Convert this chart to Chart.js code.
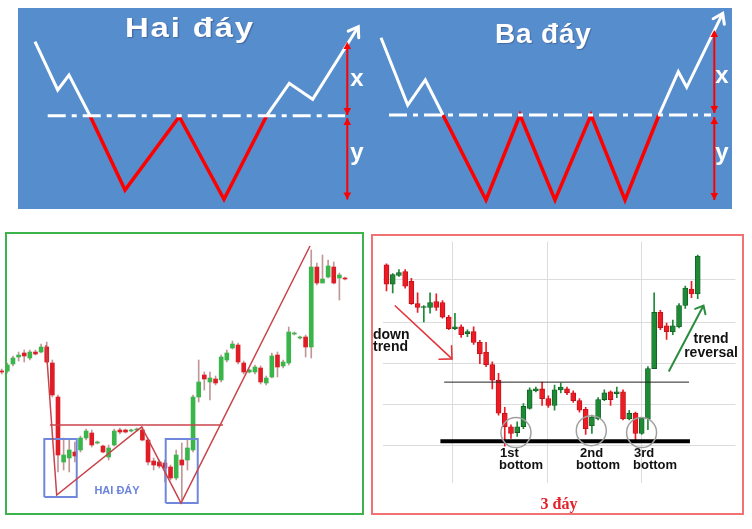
<!DOCTYPE html>
<html><head><meta charset="utf-8">
<script src="https://cdn.jsdelivr.net/npm/chart.js@4.4.1/dist/chart.umd.min.js"></script>
<style>
html,body{margin:0;padding:0;background:#fff;width:752px;height:529px;overflow:hidden;}
.abs{position:absolute;}
canvas{position:absolute;}
.t{position:absolute;font-family:"Liberation Sans",Arial,sans-serif;font-weight:bold;white-space:nowrap;}
</style></head><body>
<div class="abs" style="left:18px;top:8px;width:714px;height:201px;background:#568dcd"></div>
<canvas id="c1" width="357" height="201" style="left:18px;top:8px"></canvas>
<canvas id="c2" width="357" height="201" style="left:375px;top:8px"></canvas>
<canvas id="c3" width="370" height="300" style="left:0;top:225px"></canvas>
<canvas id="c4" width="386" height="300" style="left:366px;top:225px"></canvas>
<div class="abs" style="left:5px;top:232px;width:359px;height:283px;border:2px solid #3cb44b;box-sizing:border-box"></div>
<div class="abs" style="left:371px;top:234px;width:373px;height:281px;border:2px solid #f07272;box-sizing:border-box"></div>

<div class="t" style="left:125px;top:15px;font-size:27px;line-height:27px;letter-spacing:1.5px;transform:scaleX(1.22);transform-origin:0 0;color:#fff;text-shadow:1px 1px 1px rgba(40,40,80,0.35)">Hai đáy</div>
<div class="t" style="left:495px;top:20px;font-size:28px;line-height:28px;letter-spacing:0.8px;color:#fff;text-shadow:1px 1px 1px rgba(40,40,80,0.35)">Ba đáy</div>
<div class="t" style="left:342px;top:66px;width:30px;text-align:center;font-size:24px;line-height:24px;color:#fff">x</div>
<div class="t" style="left:342px;top:140px;width:30px;text-align:center;font-size:24px;line-height:24px;color:#fff">y</div>
<div class="t" style="left:707px;top:63px;width:30px;text-align:center;font-size:24px;line-height:24px;color:#fff">x</div>
<div class="t" style="left:707px;top:140px;width:30px;text-align:center;font-size:24px;line-height:24px;color:#fff">y</div>

<div class="t" style="left:87px;top:485px;width:60px;text-align:center;font-size:11px;line-height:11px;color:#6a83dc">HAI ĐÁY</div>

<div class="t" style="left:373px;top:328px;font-size:14px;line-height:12px;color:#111">down<br>trend</div>
<div class="t" style="left:671px;top:331px;width:80px;text-align:center;font-size:14px;line-height:14px;color:#111">trend<br>reversal</div>
<div class="t" style="left:500px;top:447px;font-size:13px;line-height:12px;color:#111">1st</div>
<div class="t" style="left:499px;top:459px;font-size:13px;line-height:12px;color:#111">bottom</div>
<div class="t" style="left:580px;top:447px;font-size:13px;line-height:12px;color:#111">2nd</div>
<div class="t" style="left:576px;top:459px;font-size:13px;line-height:12px;color:#111">bottom</div>
<div class="t" style="left:634px;top:447px;font-size:13px;line-height:12px;color:#111">3rd</div>
<div class="t" style="left:633px;top:459px;font-size:13px;line-height:12px;color:#111">bottom</div>
<div class="t" style="left:519px;top:496px;width:80px;text-align:center;font-family:'Liberation Serif','Times New Roman',serif;font-size:16px;line-height:16px;color:#e4202a">3 đáy</div>

<script>
// ---------- Top: "Hai đáy" pattern (double bottom) ----------
const hdStartX = [17, 39.7, 51, 72];
const hdStartY = [167.3, 119, 134, 93.3];
const hdWX = [72, 107, 161.3, 206, 248.7];
const hdWY = [93.3, 19, 92.3, 9.7, 93.3];
const hdEndX = [248.7, 271.3, 294.7, 340.3];
const hdEndY = [93.3, 125.7, 109.7, 182.3];
const hdNeckX = [29.7, 327];
const hdNeckY = 93.3;
const hdMeasureX = 329.3;
const hdUpperSpan = [167, 94];
const hdLowerSpan = [91, 9.5];

// ---------- Top: "Ba đáy" pattern (triple bottom) ----------
const bdStartX = [6, 32.7, 50.3, 68];
const bdStartY = [171.3, 104, 129, 94];
const bdWX = [68, 111, 145, 180, 216, 250, 284];
const bdWY = [94, 9, 94, 9, 94, 9, 94];
const bdEndX = [284, 303.3, 311.7, 347.7];
const bdEndY = [94, 137.3, 121.7, 195.7];
const bdNeckX = [14, 336];
const bdNeckY = 94;
const bdMeasureX = 339.3;
const bdUpperSpan = [179, 96];
const bdLowerSpan = [92, 9];

// ---------- Bottom left: double bottom candles ----------
const lOpen  = [154,154,161,168,172,167,173,173,178,162,128,63,67,73,75,87,92,82,79,68,80,95,95,94,95,95,85,64,63,62,58,47,65,65,75,128,150,143,146,145,165,177,180,162,153,153,157,142,148,170,159,162,191,187,188,178,258,242,248,258,247,247];
const lHigh  = [156,162,169,173,175,175,175,181,183,165,130,87,85,83,89,96,95,84,80,80,96,97,96,96,97,98,87,67,65,65,60,75,82,85,130,165,153,153,149,170,175,184,182,164,156,160,159,149,172,173,165,198,193,189,190,275,262,270,265,263,252,248];
const lLow   = [151,152,159,164,163,165,170,172,162,128,53,55,53,63,73,85,78,81,72,65,79,91,92,93,94,84,60,55,57,43,45,45,25,55,73,123,135,125,140,143,163,176,161,151,152,151,141,140,147,148,157,160,190,186,168,167,240,242,247,241,225,245];
const lClose = [153,160,167,170,169,173,171,178,163,130,70,70,75,69,87,94,80,83,73,77,94,93,93,95,96,85,63,60,59,57,47,70,60,77,128,143,146,147,142,168,172,181,163,153,155,158,143,147,169,158,163,193,192,188,178,258,242,246,259,242,250,246];
const lTrendX = [7.87, 9.77, 24.87, 31.86, 54.78];
const lTrendY = [180, 30, 98, 22, 279];
const lNeckX = [8.58, 39.32];
const lNeckY = 100;
const lBox1X = [7.57, 13.33], lBox1Y = [28, 86];
const lBox2X = [29.14, 34.83], lBox2Y = [22, 86];

// ---------- Bottom right: triple bottom candles ----------
const rOpen  = [225,205,214,218,208,185,181,181,187,186,171,159,161,154,156,145,135,122,106,72,58,52,58,77,95,97,87,80,96,97,93,85,76,59,66,86,94,92,94,66,72,51,66,118,176,162,156,161,183,200,195];
const rHigh  = [226,216,220,220,211,196,183,196,195,188,173,175,163,158,161,147,145,125,113,78,60,63,82,98,99,104,90,101,103,99,95,87,78,70,88,96,95,99,96,75,73,67,120,196,178,165,168,185,203,208,235];
const rLow   = [198,196,213,201,184,176,166,175,178,170,158,158,150,151,143,123,120,97,70,38,46,48,56,76,94,80,78,75,93,91,83,73,50,51,65,85,80,88,65,65,43,50,55,118,158,148,153,160,180,191,190];
const rClose = [205,215,217,203,185,181,182,186,181,171,159,161,153,156,145,133,122,106,72,58,51,58,79,96,97,87,80,96,99,93,85,75,56,68,86,93,86,94,66,72,51,67,118,176,160,156,162,183,201,195,234];
const rGridX = [10.64, 25.8, 40.9];
const rGridY = [39, 81, 123, 166, 210];
const rResistX = [9.27, 48.6], rResistY = 104;
const rSupportX = [8.66, 48.75], rSupportY = 43;
const rDownX = [1.34, 10.53], rDownY = [183, 128];
const rUpX = [45.35, 50.93], rUpY = [115, 183];
const rBottomX = [20.8, 32.9, 40.98];
const rBottomY = [52, 54, 52];

// ---------- helpers ----------
const pts = (xs, ys) => xs.map((x, i) => ({x, y: Array.isArray(ys) ? ys[i] : ys}));
const vpts = (x, ys) => ys.map(y => ({x, y}));
function rectPts(xs, ys) {
  return [{x:xs[0],y:ys[0]},{x:xs[1],y:ys[0]},{x:xs[1],y:ys[1]},{x:xs[0],y:ys[1]},{x:xs[0],y:ys[0]}];
}
function line(data, color, width, extra) {
  return Object.assign({type:'line', data, borderColor:color, backgroundColor:color, borderWidth:width,
    pointRadius:0, fill:false, tension:0, borderJoinStyle:'miter', borderCapStyle:'butt', order:0}, extra || {});
}

const arrowPlugin = {
  id: 'arrowHeads',
  afterDatasetsDraw(chart) {
    const ctx = chart.ctx;
    chart.data.datasets.forEach((ds, di) => {
      if (!ds.arrow) return;
      const meta = chart.getDatasetMeta(di);
      const p = meta.data;
      if (!p || p.length < 2) return;
      const a = ds.arrow;
      const draw = (tip, from) => {
        const ang = Math.atan2(tip.y - from.y, tip.x - from.x);
        const L = a.size, s = a.spread;
        ctx.save();
        ctx.strokeStyle = ds.borderColor; ctx.fillStyle = ds.borderColor;
        ctx.lineWidth = a.width || ds.borderWidth;
        ctx.lineCap = 'round'; ctx.lineJoin = 'miter';
        ctx.beginPath();
        ctx.moveTo(tip.x - L * Math.cos(ang - s), tip.y - L * Math.sin(ang - s));
        ctx.lineTo(tip.x, tip.y);
        ctx.lineTo(tip.x - L * Math.cos(ang + s), tip.y - L * Math.sin(ang + s));
        if (a.filled) { ctx.closePath(); ctx.fill(); } else { ctx.stroke(); }
        ctx.restore();
      };
      if (a.end) draw(p[p.length - 1], p[p.length - 2]);
      if (a.start) draw(p[0], p[1]);
    });
  }
};
Chart.register(arrowPlugin);

const baseOpts = {
  responsive:false, devicePixelRatio:1, animation:false, events:[],
  plugins:{legend:{display:false}, tooltip:{enabled:false}, title:{display:false}}
};

function topChart(id, sX, sY, wX, wY, eX, eY, nX, nY, mX, up, low) {
  const WHITE = '#ffffff', RED = '#ff0000';
  return new Chart(document.getElementById(id), {
    type:'scatter',
    data:{datasets:[
      line(pts(nX, nY), WHITE, 3, {borderDash:[18,6,5,6]}),
      line(pts(sX, sY), WHITE, 3),
      line(pts(wX, wY), RED, 3.5),
      line(pts(eX, eY), WHITE, 3, {arrow:{end:true, size:11, spread:0.6}}),
      line(vpts(mX, up), RED, 2, {arrow:{start:true, end:true, size:8, spread:0.5, filled:true}}),
      line(vpts(mX, low), RED, 2, {arrow:{start:true, end:true, size:8, spread:0.5, filled:true}})
    ]},
    options:Object.assign({}, baseOpts, {
      layout:{padding:0},
      scales:{x:{type:'linear', min:0, max:357, display:false}, y:{type:'linear', min:0, max:201, display:false}}
    })
  });
}
topChart('c1', hdStartX, hdStartY, hdWX, hdWY, hdEndX, hdEndY, hdNeckX, hdNeckY, hdMeasureX, hdUpperSpan, hdLowerSpan);
topChart('c2', bdStartX, bdStartY, bdWX, bdWY, bdEndX, bdEndY, bdNeckX, bdNeckY, bdMeasureX, bdUpperSpan, bdLowerSpan);

// ---------- bottom left chart ----------
(function(){
  const RED = '#df1d26', GREEN = '#3ab54a';
  const idx = lOpen.map((_, i) => i);
  new Chart(document.getElementById('c3'), {
    type:'bar',
    data:{datasets:[
      {label:'wick', data: idx.map(i => ({x:i, y:[lLow[i], lHigh[i]]})), backgroundColor:'#bf9797',
        barThickness:1, grouped:false, order:4},
      {label:'body', data: idx.map(i => ({x:i, y:[lOpen[i], lClose[i]]})),
        backgroundColor: c => (c.dataIndex !== undefined && lClose[c.dataIndex] >= lOpen[c.dataIndex]) ? GREEN : RED,
        barThickness:4, grouped:false, order:3},
      line(rectPts(lBox1X, lBox1Y), '#6f88dc', 2, {order:1}),
      line(rectPts(lBox2X, lBox2Y), '#6f88dc', 2, {order:1}),
      line(pts(lNeckX, lNeckY), '#c9434b', 1.5, {order:0}),
      line(pts(lTrendX, lTrendY), '#c9434b', 1.5, {order:0})
    ]},
    options:Object.assign({}, baseOpts, {
      layout:{padding:0},
      scales:{
        x:{type:'linear', min:-0.302, max:65.44, display:false, offset:false},
        y:{type:'linear', min:0, max:300, display:false}
      }
    })
  });
})();

// ---------- bottom right chart ----------
(function(){
  const RED = '#ee1b24', GREEN = '#1d8a36';
  const isUp = i => i !== undefined && rClose[i] >= rOpen[i];
  const idx = rOpen.map((_, i) => i);
  new Chart(document.getElementById('c4'), {
    type:'bar',
    data:{datasets:[
      {label:'wick', data: idx.map(i => ({x:i, y:[rLow[i], rHigh[i]]})),
        backgroundColor: c => isUp(c.dataIndex) ? GREEN : RED, barThickness:1, grouped:false, order:5},
      {label:'body', data: idx.map(i => ({x:i, y:[rOpen[i], rClose[i]]})),
        backgroundColor: c => isUp(c.dataIndex) ? GREEN : RED,
        borderColor: c => isUp(c.dataIndex) ? '#0f5a20' : '#b3121a',
        borderWidth:0.8, borderSkipped:false, barThickness:5, grouped:false, order:4},
      line(pts(rResistX, rResistY), '#222222', 1, {order:2}),
      line(pts(rSupportX, rSupportY), '#000000', 4, {order:2}),
      line(pts(rDownX, rDownY), '#e3343a', 1.6, {order:1, arrow:{end:true, size:13, spread:0.785}}),
      line(pts(rUpX, rUpY), '#2a8c3c', 2, {order:1, arrow:{end:true, size:9, spread:0.7}}),
      {type:'scatter', data: pts(rBottomX, rBottomY), pointRadius:15, pointBackgroundColor:'rgba(0,0,0,0)',
        pointBorderColor:'#a0a0a0', pointBorderWidth:1.5, order:0}
    ]},
    options:Object.assign({}, baseOpts, {
      layout:{padding:{left:5, right:9, top:9, bottom:42}},
      scales:{
        x:{type:'linear', min:-0.64, max:56.07, offset:false,
          grid:{color:'#dcdcdc', drawTicks:false, offset:false, lineWidth:1},
          border:{display:false}, ticks:{display:false},
          afterBuildTicks: s => { s.ticks = rGridX.map(v => ({value:v})); }},
        y:{type:'linear', min:0, max:249,
          grid:{color:'#dcdcdc', drawTicks:false, lineWidth:1},
          border:{display:false}, ticks:{display:false},
          afterBuildTicks: s => { s.ticks = rGridY.map(v => ({value:v})); }}
      }
    })
  });
})();
</script>
</body></html>
